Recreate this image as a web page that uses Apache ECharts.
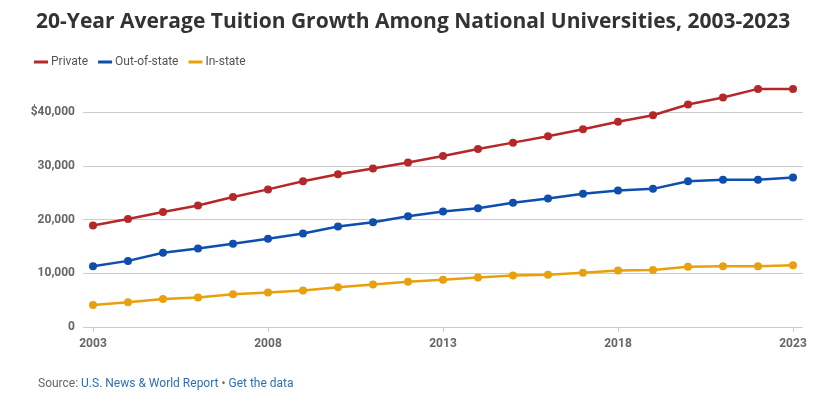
<!DOCTYPE html>
<html><head><meta charset="utf-8">
<script src="https://cdn.jsdelivr.net/npm/echarts@6/dist/echarts.min.js"></script>
<style>html,body{margin:0;padding:0;background:#fff}#c{width:836px;height:399px}</style>
</head><body><div id="c"></div>
<script>
const years = [2003,2004,2005,2006,2007,2008,2009,2010,2011,2012,2013,2014,2015,2016,2017,2018,2019,2020,2021,2022,2023];
const privateVals = [18900,20100,21400,22600,24200,25600,27100,28400,29500,30600,31800,33100,34300,35500,36800,38200,39400,41400,42700,44300,44300];
const outOfStateVals = [11300,12300,13800,14600,15500,16400,17400,18700,19500,20600,21500,22100,23100,23900,24800,25400,25700,27100,27400,27400,27800];
const inStateVals = [4100,4600,5200,5500,6100,6400,6800,7400,7900,8400,8800,9200,9600,9700,10100,10500,10600,11200,11300,11300,11500];
const xTicks = [2003,2008,2013,2018,2023];
const yTicks = [0,10000,20000,30000,40000];

const chart = echarts.init(document.getElementById('c'));
const mk = (name, vals, color) => ({
  name, type: 'line', data: years.map((y,i)=>[y, vals[i]]),
  symbol: 'circle', symbolSize: 8, clip: false,
  lineStyle: {color, width: 2.5}, itemStyle: {color}
});
chart.setOption({
  animation: false,
  textStyle: {fontFamily: 'Roboto'},
  title: [{
    text: '20-Year Average Tuition Growth Among National Universities, 2003-2023',
    left: 31, top: 7,
    textStyle: {fontFamily: 'Open Sans', fontWeight: 'bold', fontSize: 21, color: '#333'}
  },{
    text: '{g|Source: }{b|U.S. News & World Report}{g| • }{b|Get the data}',
    left: 33, top: 373,
    textStyle: {fontWeight: 'normal', rich: {
      g: {fontFamily: 'Roboto', fontWeight: 'normal', fontSize: 12, color: '#666'},
      b: {fontFamily: 'Roboto', fontWeight: 'normal', fontSize: 12, color: '#2f6eb5'}
    }}
  }],
  legend: {
    left: 29, top: 51, itemWidth: 14, itemHeight: 3, itemGap: 10,
    icon: 'rect',
    textStyle: {fontFamily: 'Roboto', fontSize: 12, color: '#555', padding: [0,0,0,-2]},
    data: ['Private','Out-of-state','In-state']
  },
  grid: {left: 83, right: 33, top: 112, bottom: 72},
  xAxis: {
    type: 'value', min: 2003 - 10/35, max: 2023 + 10/35,
    axisLine: {show: false},
    splitLine: {show: false},
    axisTick: {show: true, customValues: xTicks, length: 5, lineStyle: {color: '#ccc'}},
    axisLabel: {customValues: xTicks, formatter: v => String(v), fontWeight: 'bold', fontSize: 12, color: '#666', margin: 11}
  },
  yAxis: {
    type: 'value', min: 0, max: 40000, interval: 10000,
    axisLine: {show: false}, axisTick: {show: false},
    splitLine: {lineStyle: {color: '#ccc', width: 1}},
    axisLabel: {
      formatter: v => v === 40000 ? '$40,000' : v.toLocaleString('en-US'),
      fontWeight: 'bold', fontSize: 12, color: '#666', margin: 8
    }
  },
  series: [
    mk('Private', privateVals, '#b5282a'),
    mk('Out-of-state', outOfStateVals, '#0e4ead'),
    mk('In-state', inStateVals, '#e8a00c')
  ]
});
</script></body></html>
